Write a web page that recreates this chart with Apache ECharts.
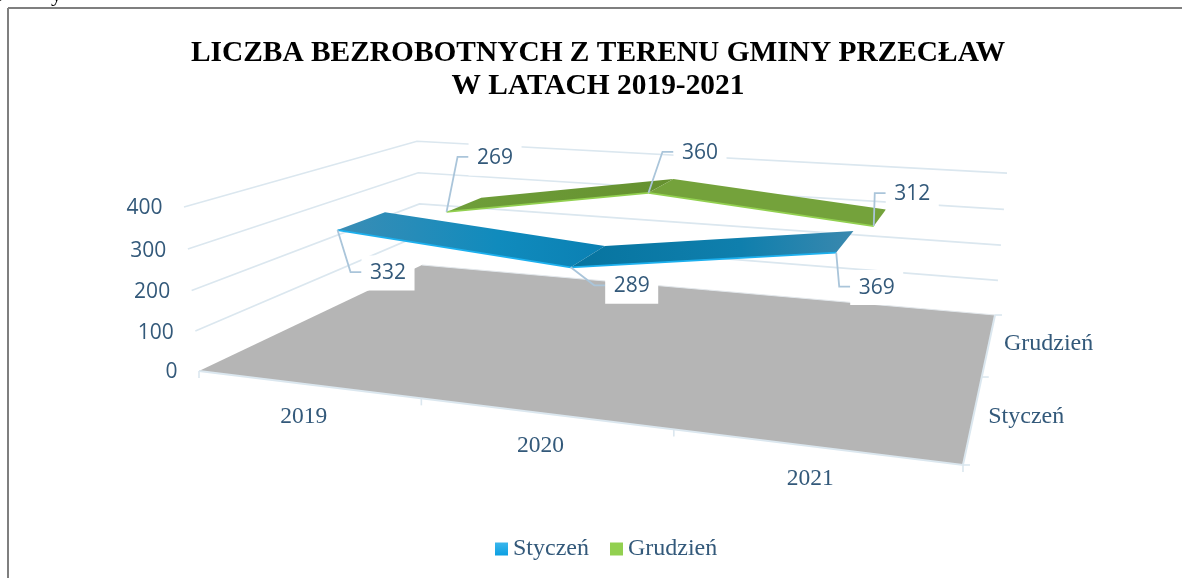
<!DOCTYPE html>
<html>
<head>
<meta charset="utf-8">
<style>html,body{margin:0;padding:0;background:#fff;overflow:hidden}#c{width:1182px;height:578px}</style>
<script src="https://cdn.jsdelivr.net/npm/echarts@6/dist/echarts.min.js"></script>
</head>
<body>
<div id="c"></div>
<script>
var years = ['2019', '2020', '2021'];
var seriesNames = ['Styczeń', 'Grudzień'];
var styczen = [332, 289, 369];
var grudzien = [269, 360, 312];
var valueTicks = [0, 100, 200, 300, 400];
var titleText = 'LICZBA BEZROBOTNYCH Z TERENU GMINY PRZECŁAW\nW LATACH 2019-2021';

var INK = '#33597a', GRID = '#dbe7ef', LEADER = '#aac5da';
var SERIF = '"Liberation Serif", serif', SANS = '"Open Sans", sans-serif';

/* Perspective camera of the 3D box: u along the years, w into the depth, v up (all 0..1). */
var cam = { a: 591.7, b: 367.9, c: 199, d: 10.8, e: -15.0, f: 371, g: -0.1789, h: 0.3433, k: -0.0352, vx: 610, vy: 4867 };
function project(u, w, v) {
  var s = cam.k * v;
  var W = cam.g * u + cam.h * w + 1 + s;
  return [(cam.a * u + cam.b * w + cam.c + s * cam.vx) / W,
          (cam.d * u + cam.e * w + cam.f + s * cam.vy) / W];
}
/* Turn a data point into unit cube coordinates through the cartesian axes. */
function unit(api, params, cat, val) {
  var p = api.coord([cat, val]), cs = params.coordSys;
  return [(p[0] - cs.x) / cs.width, 1 - (p[1] - cs.y) / cs.height];
}
function line(pts, color, width, z2) {
  return { type: 'polyline', z2: z2, silent: true, shape: { points: pts },
           style: { fill: null, stroke: color, lineWidth: width, lineJoin: 'miter' } };
}
function label(text, x, y, font, size, align, z2, bg) {
  var st = { text: text, x: x, y: y, fill: INK, font: size + 'px ' + font, align: align, verticalAlign: 'middle' };
  if (bg) { st.backgroundColor = '#fff'; st.padding = [7, 8.5, 7, 8.5]; }
  return { type: 'text', z2: z2, silent: true, style: st };
}

/* box: walls, floor, axis text */
function renderBox(params, api) {
  var ch = [];
  valueTicks.forEach(function (t) {
    var v = unit(api, params, 0, t)[1];
    var a = project(0, 0, v), b = project(0, 1, v), c = project(1, 1, v);
    if (t > 0) ch.push(line([a, b, c], GRID, 1.6, 1));
    ch.push(label(String(t), a[0] - 21.5, a[1] + 1.5, SANS, 21, 'right', 5));
  });
  var fl = [project(0, 0, 0), project(1, 0, 0), project(1, 1, 0), project(0, 1, 0)];
  ch.push({ type: 'polygon', z2: 2, silent: true, shape: { points: fl },
            style: { fill: '#b5b5b5', stroke: null } });
  ch.push(line([fl[3], fl[2]], '#e3e8ec', 1, 3));
  ch.push(line([fl[0], fl[1], fl[2]], GRID, 2, 3));
  years.forEach(function (y, i) {
    var u0 = unit(api, params, i, 0)[0];
    var p = project(u0, 0, 0);
    ch.push(label(y, p[0] - 3, p[1] + 32.5, SERIF, 23.5, 'center', 5));
  });
  for (var q = 0; q <= 3; q++) {
    var p0 = project(q / 3, 0, 0);
    ch.push(line([p0, [p0[0], p0[1] + 7]], GRID, 1.6, 3));
  }
  for (var r = 0; r <= 2; r++) {
    var p1 = project(1, r / 2, 0);
    ch.push(line([p1, [p1[0] + 7, p1[1]]], GRID, 1.6, 3));
  }
  seriesNames.forEach(function (n, i) {
    var p = project(1, (i + 0.5) / 2, 0);
    ch.push(label(n, p[0] + 15, p[1], SERIF, 24, 'left', 5));
  });
  return { type: 'group', children: ch };
}

/* ribbon renderers */
function grad(x0, y0, x1, y1, stops) {
  return new echarts.graphic.LinearGradient(x0, y0, x1, y1, stops.map(function (c) {
    return { offset: c[1], color: c[0] };
  }));
}
var looks = [
  { w0: 0.15, w1: 0.35, edge: '#1cb0ee',
    seg: [[['#3a8db5', 0], ['#108bbd', 0.6], ['#0b80b3', 1]], [['#07749f', 0], ['#0f7fad', 0.6], ['#3a88ae', 1]]],
    lead: [[13, 42], [23.5, 18], [3, 34]] },
  { w0: 0.65, w1: 0.85, edge: '#92d050',
    seg: [[['#6f9f3a', 0], ['#65902f', 1]], [['#74a23b', 0], ['#74a23b', 1]]],
    lead: [[11, -55], [14, -41], [1, -33]] }
];
function makeRibbon(sIdx, values) {
  var look = looks[sIdx];
  return function (params, api) {
    var i = params.dataIndex, ch = [];
    var cur = unit(api, params, i, api.value(1));
    var f = project(cur[0], look.w0, cur[1]);
    if (i < values.length - 1) {
      var nxt = unit(api, params, i + 1, values[i + 1]);
      var f2 = project(nxt[0], look.w0, nxt[1]);
      var b = project(cur[0], look.w1, cur[1]);
      var b2 = project(nxt[0], look.w1, nxt[1]);
      ch.push({ type: 'polygon', z2: 6 + i, silent: true, shape: { points: [f, f2, b2, b] },
                style: { fill: grad(0, 0, 1, 0, look.seg[i]) } });
      ch.push(line([f, f2], look.edge, 1.8, 8));
    }
    var ld = look.lead[i];
    var ex = f[0] + ld[0], ey = f[1] + ld[1];
    ch.push(line([f, [ex, ey], [ex + 11, ey]], LEADER, 1.8, 9));
    ch.push(label(String(values[i]), ex + 37.5, ey + 1, SANS, 21, 'center', 10, true));
    return { type: 'group', children: ch };
  };
}
function pairs(values) { return values.map(function (v, i) { return [i, v]; }); }

var chart = echarts.init(document.getElementById('c'), null, { renderer: 'canvas' });
chart.setOption({
  animation: false,
  backgroundColor: '#fff',
  title: { text: titleText, left: 593, top: 32, textAlign: 'center',
           textStyle: { fontFamily: SERIF, fontWeight: 'bold', fontSize: 29.4, lineHeight: 33, color: '#000' } },
  legend: { left: 490, top: 532, itemWidth: 13, itemHeight: 13, itemGap: 21,
            data: seriesNames.map(function (n) { return { name: n, icon: 'rect' }; }),
            textStyle: { fontFamily: SERIF, fontSize: 24, color: INK } },
  grid: { left: 200, top: 100, width: 600, height: 300 },
  xAxis: { type: 'category', data: years, show: false },
  yAxis: { type: 'value', min: 0, max: 400, interval: 100, show: false },
  graphic: [
    { type: 'line', silent: true, z: 100, shape: { x1: 8, y1: 8, x2: 1182, y2: 8 }, style: { stroke: '#7f7f7f', lineWidth: 2 } },
    { type: 'line', silent: true, z: 100, shape: { x1: 8, y1: 8, x2: 8, y2: 578 }, style: { stroke: '#7f7f7f', lineWidth: 2 } },
    { type: 'text', silent: true, z: 100, style: { text: 'p', x: -7, y: -16, fill: '#000', font: '22px ' + SERIF } },
    { type: 'text', silent: true, z: 100, style: { text: 'y', x: 51, y: -16, fill: '#000', font: '22px ' + SERIF } }
  ],
  series: [
    { type: 'custom', name: 'box', coordinateSystem: 'cartesian2d', z: 1, silent: true,
      clip: false, renderItem: renderBox, data: [[0, 0]], encode: { x: 0, y: 1 }, legendHoverLink: false },
    { type: 'custom', name: seriesNames[0], coordinateSystem: 'cartesian2d', z: 2, silent: true,
      clip: false, renderItem: makeRibbon(0, styczen), data: pairs(styczen), encode: { x: 0, y: 1 },
      itemStyle: { color: grad(0, 0, 0, 1, [['#3bb6ec', 0], ['#0b9fe2', 1]]) } },
    { type: 'custom', name: seriesNames[1], coordinateSystem: 'cartesian2d', z: 3, silent: true,
      clip: false, renderItem: makeRibbon(1, grudzien), data: pairs(grudzien), encode: { x: 0, y: 1 },
      itemStyle: { color: '#92d050' } }
  ]
});
</script>
</body>
</html>
